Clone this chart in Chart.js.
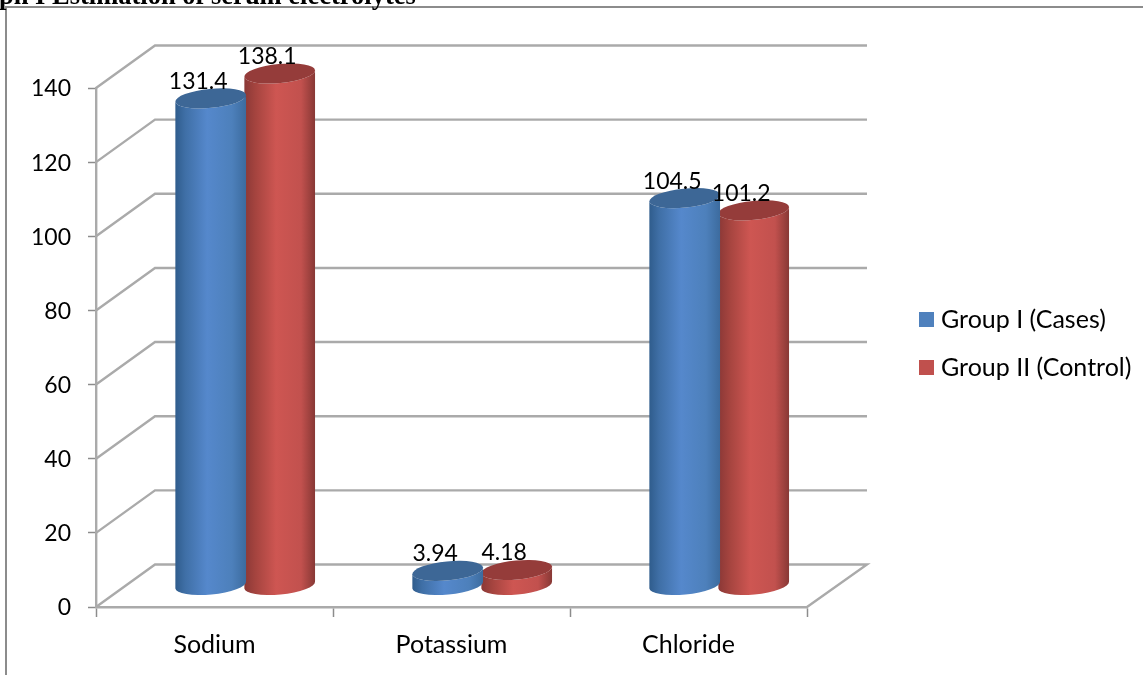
<!DOCTYPE html>
<html>
<head>
<meta charset="utf-8">
<title>Estimation of serum electrolytes</title>
<script src="https://cdn.jsdelivr.net/npm/chart.js@4/dist/chart.umd.min.js"></script>
<style>
html,body{margin:0;padding:0;background:#fff;overflow:hidden}
#wrap{position:relative;width:1143px;height:675px}
canvas{display:block;filter:blur(0.55px)}
</style>
</head>
<body>
<div id="wrap"><canvas id="c" width="1143" height="675"></canvas></div>
<script>
const categories = ['Sodium', 'Potassium', 'Chloride'];
const groupOneName = 'Group I (Cases)';
const groupTwoName = 'Group II (Control)';
const groupOneValues = [131.4, 3.94, 104.5];
const groupTwoValues = [138.1, 4.18, 101.2];
const captionText = 'ph I Estimation of serum electrolytes';

const DEPTH_X = 59, DEPTH_Y = -42.5;   // back wall offset
const CYL_X = 30.7, CYL_Y = -21.5;     // cylinders stand mid-floor
const TILT = -5.5 * Math.PI / 180, RY = 9.5;
const FONT = 'Lato, Carlito, sans-serif';
const LINE = '#aaaaaa';

const shades = {
  '#4f81bd': {stops: [[0,'#2f5c8c'],[0.14,'#3f6fa6'],[0.45,'#5588cc'],[0.8,'#4d80bb'],[1,'#3c6b9e']], cap: '#3d6796'},
  '#c0504d': {stops: [[0,'#8a3836'],[0.16,'#a5443f'],[0.45,'#ce5652'],[0.8,'#c2514e'],[1,'#873835']], cap: '#953c3a'}
};

// Bars keep the library's geometry; only their painting becomes a cylinder.
Chart.BarElement.prototype.draw = function (ctx) {
  const {x, y, base, width} = this.getProps(['x', 'y', 'base', 'width']);
  const fill = this.options.backgroundColor;
  const shade = shades[fill];
  const cx = x + CYL_X, rx = width / 2 + 1;
  const topY = y + CYL_Y, baseY = base + CYL_Y;
  const c = Math.cos(TILT) * rx, s = Math.sin(TILT) * rx;
  const g = ctx.createLinearGradient(cx - rx, 0, cx + rx, 0);
  shade.stops.forEach(st => g.addColorStop(st[0], st[1]));
  ctx.save();
  ctx.fillStyle = g;
  ctx.beginPath();
  ctx.ellipse(cx, baseY, rx, RY, TILT, 0, Math.PI);
  ctx.lineTo(cx - c, topY - s);
  ctx.ellipse(cx, topY, rx, RY, TILT, Math.PI, 0, true);
  ctx.closePath();
  ctx.fill();
  ctx.fillStyle = shade.cap;
  ctx.beginPath();
  ctx.ellipse(cx, topY, rx, RY, TILT, 0, Math.PI * 2);
  ctx.fill();
  ctx.restore();
};

const wallPlugin = {
  id: 'wall',
  beforeDatasetsDraw(chart) {
    const {ctx, scales: {y}, chartArea: {left, right}} = chart;
    ctx.save();
    ctx.strokeStyle = LINE;
    ctx.lineWidth = 2.4;
    y.ticks.forEach((t, i) => {
      const py = y.getPixelForTick(i);
      ctx.beginPath();
      ctx.moveTo(left, py);
      ctx.lineTo(left + DEPTH_X, py + DEPTH_Y);
      ctx.lineTo(right + DEPTH_X + 1, py + DEPTH_Y);
      if (t.value === 0) ctx.lineTo(right, py);
      ctx.stroke();
    });
    ctx.restore();
  },
  afterDraw(chart) {
    const {ctx} = chart;
    ctx.save();
    ctx.strokeStyle = '#8c8c8c';
    ctx.lineWidth = 2;
    ctx.beginPath();
    ctx.moveTo(6, 675);
    ctx.lineTo(6, 7);
    ctx.lineTo(1143, 7);
    ctx.stroke();
    ctx.fillStyle = '#000';
    ctx.font = 'bold 26.5px "Liberation Serif", serif';
    ctx.textAlign = 'left';
    ctx.textBaseline = 'alphabetic';
    ctx.fillText(captionText, -1, 4);
    ctx.restore();
  }
};

const labelPlugin = {
  id: 'valueLabels',
  afterDatasetsDraw(chart) {
    const {ctx} = chart;
    ctx.save();
    ctx.fillStyle = '#000';
    ctx.font = '23px ' + FONT;
    ctx.textAlign = 'center';
    ctx.textBaseline = 'middle';
    chart.data.datasets.forEach((ds, d) => {
      chart.getDatasetMeta(d).data.forEach((bar, i) => {
        ctx.fillText(String(ds.data[i]), bar.x + CYL_X - 12.5, bar.y + CYL_Y - 17);
      });
    });
    ctx.restore();
  }
};

const legendPlugin = {
  id: 'legendPlace',
  afterLayout(chart) {
    const l = chart.legend;
    l.left = 901.5; l.right = 1143; l.width = 241.5;
    l.top = 284; l.bottom = 500; l.height = 216;
  }
};

new Chart(document.getElementById('c'), {
  type: 'bar',
  data: {
    labels: categories,
    datasets: [
      {label: groupOneName, data: groupOneValues, backgroundColor: '#4f81bd', clip: false},
      {label: groupTwoName, data: groupTwoValues, backgroundColor: '#c0504d', clip: false}
    ]
  },
  plugins: [wallPlugin, labelPlugin, legendPlugin],
  options: {
    responsive: false,
    animation: false,
    devicePixelRatio: 1,
    layout: {padding: {left: 0, top: 88, right: 336, bottom: 0}},
    datasets: {bar: {categoryPercentage: 0.5823, barPercentage: 1}},
    plugins: {
      title: {display: false},
      tooltip: {enabled: false},
      legend: {
        position: 'chartArea',
        align: 'start',
        labels: {
          color: '#000',
          font: {family: FONT, size: 25},
          boxWidth: 4,
          boxHeight: 4,
          padding: 23,
          generateLabels(chart) {
            return chart.data.datasets.map((ds, i) => ({
              text: ds.label,
              fillStyle: ds.backgroundColor,
              strokeStyle: ds.backgroundColor,
              lineWidth: 11,
              fontColor: '#000',
              datasetIndex: i
            }));
          }
        }
      }
    },
    scales: {
      x: {
        offset: true,
        afterFit(s) { s.height = 68; },
        border: {color: LINE, width: 2.4},
        grid: {offset: true, drawOnChartArea: false, tickLength: 10, tickColor: '#8c8c8c', tickWidth: 1.5},
        ticks: {color: '#000', padding: 13, font: {family: FONT, size: 25}}
      },
      y: {
        min: 0,
        max: 140,
        ticks: {stepSize: 20, color: '#000', padding: 17, labelOffset: 1, font: {family: FONT, size: 23}},
        afterFit(s) { s.width = 96; },
        border: {color: LINE, width: 2.4},
        grid: {drawOnChartArea: false, tickLength: 8, tickColor: '#8c8c8c', tickWidth: 1.5}
      }
    }
  }
});
</script>
</body>
</html>
